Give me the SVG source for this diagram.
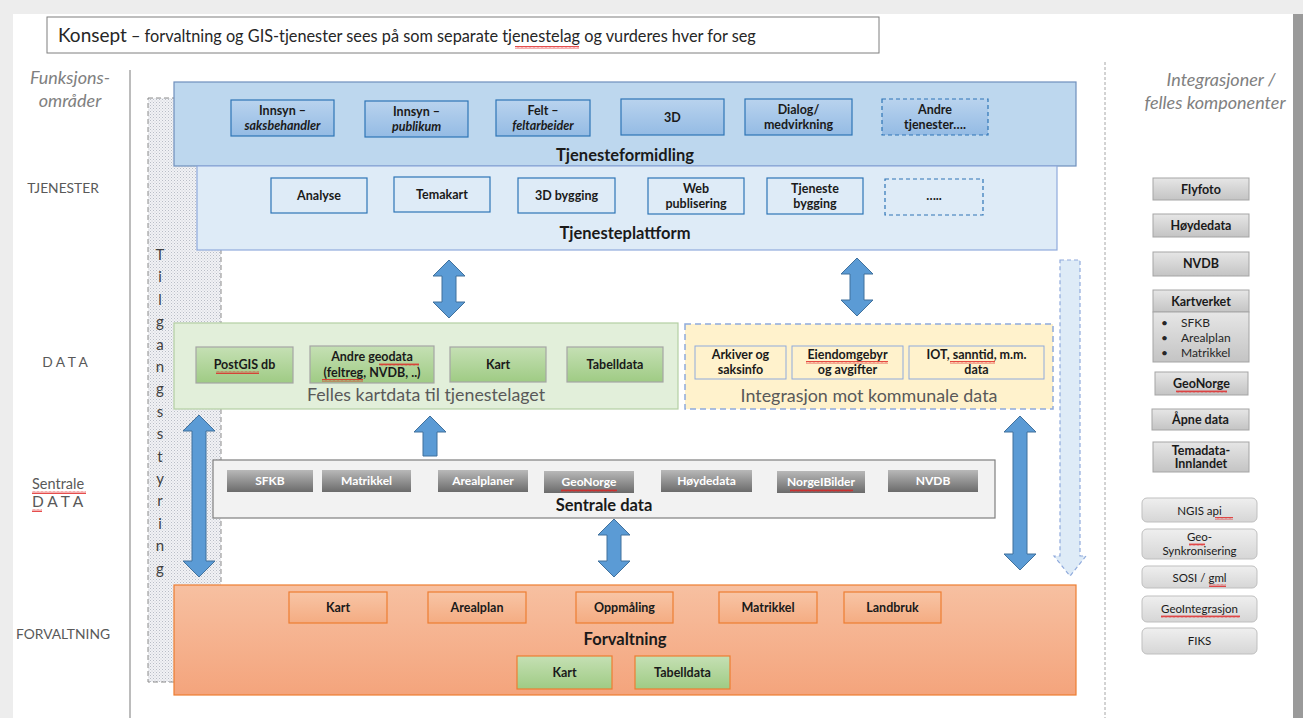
<svg xmlns="http://www.w3.org/2000/svg" width="1303" height="718" viewBox="0 0 1303 718">
<defs>
<style>
text{font-family:Lato,"Liberation Sans",sans-serif;}
.b{font-weight:bold;font-size:12.5px;fill:#1a1a1a;text-anchor:middle;}
.bi{font-weight:bold;font-style:italic;font-size:12.5px;fill:#1a1a1a;text-anchor:middle;}
.bw{font-weight:bold;font-size:12px;fill:#ffffff;text-anchor:middle;}
.r{font-size:11.5px;fill:#1a1a1a;text-anchor:middle;}
.t{font-weight:bold;font-size:16.5px;fill:#1a1a1a;text-anchor:middle;}
.lab{font-size:13.8px;fill:#595959;text-anchor:middle;}
.hd{font-style:italic;font-size:18px;fill:#808080;text-anchor:middle;}
.tb{fill:url(#gBlue);stroke:#2e75b6;stroke-width:1.2;}
.pb{fill:#deebf7;stroke:#2e75b6;stroke-width:1.2;}
.gr{fill:url(#gGreen);stroke:#a5a5a5;stroke-width:1.2;}
.or{fill:url(#gOr);stroke:#ed7d31;stroke-width:1.2;}
.gy{fill:url(#gGrayDark);}
.rb{fill:url(#gGray);stroke:#a5a5a5;stroke-width:1;}
.rr{fill:url(#gGrayL);stroke:#bfbfbf;stroke-width:1;}
.ar{fill:#5b9bd5;stroke:#41719c;stroke-width:1;}
.sq{fill:url(#squig);}
</style>
<linearGradient id="gBlue" x1="0" y1="0" x2="0" y2="1"><stop offset="0" stop-color="#b9d3ee"/><stop offset="1" stop-color="#94bbe4"/></linearGradient>
<linearGradient id="gGreen" x1="0" y1="0" x2="0" y2="1"><stop offset="0" stop-color="#c5e0b4"/><stop offset="1" stop-color="#9fcb84"/></linearGradient>
<linearGradient id="gOr" x1="0" y1="0" x2="0" y2="1"><stop offset="0" stop-color="#f8c5a6"/><stop offset="1" stop-color="#f4ac82"/></linearGradient>
<linearGradient id="gForv" x1="0" y1="0" x2="0" y2="1"><stop offset="0" stop-color="#f7c0a1"/><stop offset="1" stop-color="#f4a47c"/></linearGradient>
<linearGradient id="gGrayDark" x1="0" y1="0" x2="0" y2="1"><stop offset="0" stop-color="#b8b8b8"/><stop offset="1" stop-color="#6b6b6b"/></linearGradient>
<linearGradient id="gGray" x1="0" y1="0" x2="0" y2="1"><stop offset="0" stop-color="#e6e6e6"/><stop offset="1" stop-color="#c4c4c4"/></linearGradient>
<linearGradient id="gGrayL" x1="0" y1="0" x2="0" y2="1"><stop offset="0" stop-color="#efefef"/><stop offset="1" stop-color="#d6d6d6"/></linearGradient>
<pattern id="dots" width="3" height="3" patternUnits="userSpaceOnUse"><rect width="3" height="3" fill="#f1f2f5"/><rect width="1" height="1" fill="#b9bdc6"/><rect x="1.5" y="1.5" width="1" height="1" fill="#c9ccd3"/></pattern>
<pattern id="squig" width="4" height="3" patternUnits="userSpaceOnUse"><polyline points="0,2.5 1,0.5 2,2.5 3,0.5 4,2.5" fill="none" stroke="#e02020" stroke-width="0.8"/></pattern>
</defs>

<!-- page -->
<rect x="0" y="0" width="1303" height="718" fill="#ededed"/>
<rect x="13" y="14" width="1280" height="704" fill="#ffffff"/>
<rect x="1293" y="14" width="10" height="704" fill="#9a9a9a"/>

<!-- title -->
<g id="title">
<rect x="47" y="17" width="832" height="36" fill="#ffffff" stroke="#7f7f7f" stroke-width="1"/>
<text x="58" y="42" fill="#262626" font-size="19">Konsept<tspan font-size="16.3"> – forvaltning og GIS-tjenester sees på som separate tjenestelag og vurderes hver for seg</tspan></text>
<rect class="sq" x="515" y="46" width="64" height="3"/>
</g>

<!-- column guides -->
<line x1="130" y1="70" x2="130" y2="718" stroke="#a6a6a6" stroke-width="1.5"/>
<line x1="1105" y1="62" x2="1105" y2="718" stroke="#a6a6a6" stroke-width="1" stroke-dasharray="3,2"/>

<!-- left labels -->
<g id="left-labels">
<text class="hd" x="70" y="84">Funksjons-</text>
<text class="hd" x="70" y="107">områder</text>
<text class="lab" x="63" y="193">TJENESTER</text>
<text class="lab" x="65" y="367" font-size="15.5">D A T A</text>
<text x="32" y="489" font-size="14.5" fill="#595959">Sentrale</text>
<rect class="sq" x="32" y="491" width="54" height="3"/>
<text x="32" y="507" font-size="15.5" fill="#595959">D A T A</text>
<rect class="sq" x="32" y="509" width="10" height="3"/>
<text class="lab" x="63" y="639">FORVALTNING</text>
</g>

<!-- right header -->
<g id="right-header">
<text class="hd" x="1221" y="86" font-size="18.5">Integrasjoner /</text>
<text class="hd" x="1215" y="109" font-size="18.5">felles komponenter</text>
</g>

<!-- Tilgangsstyring -->
<g id="tilgangsstyring">
<rect x="148" y="98" width="73" height="584" fill="url(#dots)" stroke="#8c8c8c" stroke-width="1" stroke-dasharray="5,3"/>
<g font-size="15" fill="#404040" text-anchor="middle">
<text x="160" y="260">T</text><text x="160" y="282">i</text><text x="160" y="305">l</text><text x="160" y="327">g</text><text x="160" y="350">a</text><text x="160" y="372">n</text><text x="160" y="394">g</text><text x="160" y="417">s</text><text x="160" y="439">s</text><text x="160" y="462">t</text><text x="160" y="484">y</text><text x="160" y="506">r</text><text x="160" y="529">i</text><text x="160" y="551">n</text><text x="160" y="574">g</text>
</g>
</g>

<!-- Tjenesteformidling -->
<g id="tjenesteformidling">
<rect x="174" y="82" width="902" height="84" fill="#bdd7ee" stroke="#6e8fbd" stroke-width="1.2"/>
<rect class="tb" x="231" y="100" width="103" height="36"/>
<text class="b" x="282.5" y="115">Innsyn –</text><text class="bi" x="282.5" y="130">saksbehandler</text>
<rect class="tb" x="365" y="101" width="103" height="36"/>
<text class="b" x="416.5" y="116">Innsyn –</text><text class="bi" x="416.5" y="131">publikum</text>
<rect class="tb" x="496" y="100" width="94" height="36"/>
<text class="b" x="543" y="115">Felt –</text><text class="bi" x="543" y="130">feltarbeider</text>
<rect class="tb" x="621" y="99" width="103" height="36"/>
<text class="b" x="672.5" y="122">3D</text>
<rect class="tb" x="745" y="99" width="107" height="36"/>
<text class="b" x="798.5" y="114">Dialog/</text><text class="b" x="798.5" y="129">medvirkning</text>
<rect x="882" y="99" width="106" height="36" fill="url(#gBlue)" stroke="#2e75b6" stroke-width="1.2" stroke-dasharray="4,3"/>
<text class="b" x="935" y="114">Andre</text><text class="b" x="935" y="129">tjenester….</text>
<text class="t" x="625" y="161">Tjenesteformidling</text>
</g>

<!-- Tjenesteplattform -->
<g id="tjenesteplattform">
<rect x="197" y="166" width="860" height="84" fill="#deebf7" stroke="#8faadc" stroke-width="1.2"/>
<rect class="pb" x="271" y="178" width="96" height="35"/>
<text class="b" x="319" y="200">Analyse</text>
<rect class="pb" x="394" y="177" width="96" height="35"/>
<text class="b" x="442" y="199">Temakart</text>
<rect class="pb" x="518" y="178" width="97" height="35"/>
<text class="b" x="566.5" y="200">3D bygging</text>
<rect class="pb" x="648" y="178" width="96" height="36"/>
<text class="b" x="696" y="193">Web</text><text class="b" x="696" y="208">publisering</text>
<rect class="pb" x="767" y="178" width="96" height="36"/>
<text class="b" x="815" y="193">Tjeneste</text><text class="b" x="815" y="208">bygging</text>
<rect x="885" y="179" width="98" height="36" fill="#deebf7" stroke="#2e75b6" stroke-width="1.2" stroke-dasharray="4,3"/>
<text class="b" x="934" y="200">…..</text>
<text class="t" x="625" y="239">Tjenesteplattform</text>
</g>

<!-- Felles kartdata -->
<g id="felles-kartdata">
<rect x="174" y="323" width="504" height="86" fill="#e2efda" stroke="#b4cfa3" stroke-width="1.2"/>
<rect class="gr" x="196" y="347" width="97" height="36"/>
<text class="b" x="244.5" y="369">PostGIS db</text>
<rect class="sq" x="216" y="371" width="43" height="3"/>
<rect class="gr" x="310" y="346" width="124" height="37"/>
<text class="b" x="372" y="361">Andre geodata</text>
<text class="b" x="372" y="377">(feltreg, NVDB, ..)</text>
<rect class="sq" x="379" y="363" width="40" height="3"/>
<rect class="sq" x="322" y="379" width="41" height="3"/>
<rect class="gr" x="450" y="347" width="96" height="35"/>
<text class="b" x="498" y="369">Kart</text>
<rect class="gr" x="567" y="347" width="96" height="35"/>
<text class="b" x="615" y="369">Tabelldata</text>
<text x="426" y="401" font-size="17.8" fill="#595959" text-anchor="middle">Felles kartdata til tjenestelaget</text>
</g>

<!-- Integrasjon mot kommunale data -->
<g id="integrasjon-kommunale">
<rect x="685" y="324" width="368" height="85" fill="#fff2cc" stroke="#8faadc" stroke-width="1.5" stroke-dasharray="6,4"/>
<rect x="695" y="346" width="91" height="33" fill="#fff2cc" stroke="#8faadc" stroke-width="1"/>
<text class="b" x="740.5" y="359">Arkiver og</text><text class="b" x="740.5" y="374">saksinfo</text>
<rect x="792" y="346" width="111" height="33" fill="#fff2cc" stroke="#8faadc" stroke-width="1"/>
<text class="b" x="847.5" y="359">Eiendomgebyr</text><text class="b" x="847.5" y="374">og avgifter</text>
<rect class="sq" x="806" y="361" width="82" height="3"/>
<rect x="909" y="346" width="135" height="33" fill="#fff2cc" stroke="#8faadc" stroke-width="1"/>
<text class="b" x="976.5" y="359">IOT, sanntid, m.m.</text><text class="b" x="976.5" y="374">data</text>
<rect class="sq" x="950" y="361" width="45" height="3"/>
<text x="869" y="402" font-size="17.9" fill="#595959" text-anchor="middle">Integrasjon mot kommunale data</text>
</g>

<!-- Sentrale data -->
<g id="sentrale-data">
<rect x="213" y="460" width="782" height="58" fill="#f2f2f2" stroke="#7f7f7f" stroke-width="1.2"/>
<rect class="gy" x="227" y="470" width="86" height="22"/><text class="bw" x="270" y="485">SFKB</text>
<rect class="gy" x="322" y="470" width="89" height="22"/><text class="bw" x="366.5" y="485">Matrikkel</text>
<rect class="gy" x="438" y="470" width="90" height="22"/><text class="bw" x="483" y="485">Arealplaner</text>
<rect class="gy" x="544" y="471" width="90" height="22"/><text class="bw" x="589" y="486">GeoNorge</text>
<rect class="sq" x="561" y="489" width="56" height="3"/>
<rect class="gy" x="661" y="470" width="91" height="22"/><text class="bw" x="706.5" y="485">Høydedata</text>
<rect class="gy" x="777" y="471" width="88" height="22"/><text class="bw" x="821" y="486">NorgeIBilder</text>
<rect class="sq" x="790" y="489" width="63" height="3"/>
<rect class="gy" x="888" y="470" width="90" height="22"/><text class="bw" x="933" y="485">NVDB</text>
<text class="t" x="604" y="511" font-size="16">Sentrale data</text>
</g>

<!-- Forvaltning -->
<g id="forvaltning">
<rect x="174" y="585" width="902" height="110" fill="url(#gForv)" stroke="#ed7d31" stroke-width="1.2"/>
<rect class="or" x="289" y="592" width="98" height="31"/><text class="b" x="338" y="612">Kart</text>
<rect class="or" x="428" y="592" width="98" height="31"/><text class="b" x="477" y="612">Arealplan</text>
<rect class="or" x="576" y="592" width="97" height="31"/><text class="b" x="624.5" y="612">Oppmåling</text>
<rect class="or" x="719" y="592" width="98" height="31"/><text class="b" x="768" y="612">Matrikkel</text>
<rect class="or" x="844" y="592" width="97" height="31"/><text class="b" x="892.5" y="612">Landbruk</text>
<text class="t" x="625" y="645" font-size="16">Forvaltning</text>
<rect x="517" y="656" width="95" height="33" fill="url(#gGreen)" stroke="#ed7d31" stroke-width="1.2"/><text class="b" x="564.5" y="677">Kart</text>
<rect x="635" y="656" width="95" height="33" fill="url(#gGreen)" stroke="#ed7d31" stroke-width="1.2"/><text class="b" x="682.5" y="677">Tabelldata</text>
</g>

<!-- right column components -->
<g id="felles-komponenter">
<rect class="rb" x="1153" y="178" width="96" height="22"/><text class="b" x="1201" y="194" font-size="11.5">Flyfoto</text>
<rect class="rb" x="1153" y="214" width="96" height="23"/><text class="b" x="1201" y="230" font-size="11.5">Høydedata</text>
<rect class="rb" x="1153" y="252" width="96" height="24"/><text class="b" x="1201" y="268" font-size="11.5">NVDB</text>
<rect class="rb" x="1153" y="290" width="96" height="22"/><text class="b" x="1201" y="306" font-size="11.5">Kartverket</text>
<rect class="rb" x="1153" y="312" width="96" height="50"/>
<g font-size="12" fill="#262626">
<text x="1161" y="327">•</text><text x="1181" y="327">SFKB</text>
<text x="1161" y="342">•</text><text x="1181" y="342">Arealplan</text>
<text x="1161" y="357">•</text><text x="1181" y="357">Matrikkel</text>
</g>
<rect class="rb" x="1155" y="372" width="93" height="23"/><text class="b" x="1201.5" y="388" font-size="11.5">GeoNorge</text>
<rect class="sq" x="1176" y="390" width="51" height="3"/>
<rect class="rb" x="1152" y="409" width="97" height="21"/><text class="b" x="1200.5" y="424" font-size="11.5">Åpne data</text>
<rect class="rb" x="1153" y="442" width="96" height="30"/>
<text class="b" x="1201" y="455" font-size="11.5">Temadata-</text><text class="b" x="1201" y="468" font-size="11.5">Innlandet</text>
<rect class="rr" x="1142" y="498" width="115" height="24" rx="5"/><text class="r" x="1199.5" y="515">NGIS api</text>
<rect class="sq" x="1215" y="517" width="18" height="3"/>
<rect class="rr" x="1142" y="529" width="115" height="30" rx="5"/>
<text class="r" x="1199.5" y="541">Geo-</text><text class="r" x="1199.5" y="555">Synkronisering</text>
<rect class="sq" x="1189" y="543" width="16" height="3"/>
<rect class="rr" x="1142" y="566" width="115" height="22" rx="5"/><text class="r" x="1199.5" y="582">SOSI / gml</text>
<rect class="sq" x="1209" y="584" width="17" height="3"/>
<rect class="rr" x="1142" y="596" width="115" height="26" rx="5"/><text class="r" x="1199.5" y="613">GeoIntegrasjon</text>
<rect class="sq" x="1161" y="615" width="79" height="3"/>
<rect class="rr" x="1142" y="628" width="115" height="26" rx="5"/><text class="r" x="1199.5" y="645">FIKS</text>
</g>

<!-- connectors -->
<g id="connectors">
<polygon class="ar" points="449,260 465,276 456,276 456,302 465,302 449,318 433,302 442,302 442,276 433,276"/>
<polygon class="ar" points="857,258 873,274 864,274 864,300 873,300 857,316 841,300 850,300 850,274 841,274"/>
<polygon class="ar" points="199,415 215,431 206,431 206,561 215,561 199,577 183,561 192,561 192,431 183,431"/>
<polygon class="ar" points="430,416 446,432 437,432 437,456 423,456 423,432 414,432"/>
<polygon class="ar" points="614,519 630,535 621,535 621,561 630,561 614,577 598,561 607,561 607,535 598,535"/>
<polygon class="ar" points="1020,416 1036,432 1027,432 1027,554 1036,554 1020,570 1004,554 1013,554 1013,432 1004,432"/>
<polygon points="1060,260 1080,260 1080,556 1086,556 1070,576 1054,556 1060,556" fill="#deebf7" stroke="#8faadc" stroke-width="1.2" stroke-dasharray="4,3"/>
</g>
</svg>
